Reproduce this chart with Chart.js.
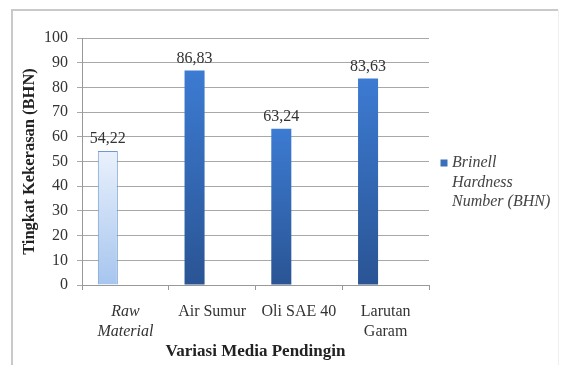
<!DOCTYPE html>
<html><head><meta charset="utf-8">
<script src="https://cdn.jsdelivr.net/npm/chart.js@4"></script>
<style>html,body{margin:0;padding:0;background:#fff;}#wrap{width:563px;height:365px;position:relative;}</style>
</head><body><div id="wrap"><canvas id="c" width="563" height="365"></canvas></div>
<script>
const categories = [["Raw","Material"], "Air Sumur", "Oli SAE 40", ["Larutan","Garam"]];
const italicCats = [true, false, false, false];
const seriesLabel = "Brinell Hardness Number (BHN)";
const legendLines = ["Brinell","Hardness","Number (BHN)"];
const seriesValues = [54.22, 86.83, 63.24, 83.63];
const emptySeries = [null, null, null, null];
const valueLabels = ["54,22", "86,83", "63,24", "83,63"];
const yTicks = [0,10,20,30,40,50,60,70,80,90,100];
const yTitle = "Tingkat Kekerasan (BHN)";
const xTitle = "Variasi Media Pendingin";

const SERIF = "'Liberation Serif','Times New Roman',serif";

function barFill(ctx){
  const chart = ctx.chart;
  const ys = chart.scales.y;
  if(!ys || ctx.raw == null) return ctx.dataIndex===0 ? '#c6dbf5' : '#3a6fb9';
  const top = ys.getPixelForValue(ctx.raw), base = ys.getPixelForValue(0);
  if(!isFinite(top) || !isFinite(base)) return ctx.dataIndex===0 ? '#c6dbf5' : '#3a6fb9';
  const g = chart.ctx.createLinearGradient(0, top, 0, base);
  if(ctx.dataIndex===0){
    g.addColorStop(0,'#eaf1fc'); g.addColorStop(1,'#a6c5ee');
  } else {
    g.addColorStop(0,'#3c7bd2'); g.addColorStop(1,'#2a5494');
  }
  return g;
}

const decor = {
  id:'decor',
  beforeDraw(chart){
    const c = chart.ctx;
    c.save();
    c.strokeStyle = '#c9c9c9'; c.lineWidth = 2;
    c.beginPath(); c.moveTo(12,365); c.lineTo(12,10); c.lineTo(558,10); c.stroke();
    c.strokeStyle = '#efefef'; c.lineWidth = 1;
    c.beginPath(); c.moveTo(558.5,10); c.lineTo(558.5,365); c.stroke();
    c.restore();
  },
  afterDatasetsDraw(chart){
    const c = chart.ctx; const meta = chart.getDatasetMeta(0);
    c.save();
    c.font = "16px " + SERIF; c.fillStyle = '#333'; c.textAlign='center'; c.textBaseline='middle';
    meta.data.forEach((b,i)=>{ c.fillText(valueLabels[i], b.x, b.y - 12); });
    // legend
    const lx = 444, ly = 163;
    c.fillStyle = '#3a6fb9'; c.fillRect(lx-3.5, ly-3.5, 7, 7);
    c.fillStyle = '#444'; c.font = "italic 16px " + SERIF; c.textAlign='left'; c.textBaseline='middle';
    legendLines.forEach((w,i)=> c.fillText(w, lx+8, ly + i*19.5));
    // x tick labels
    const xs = chart.scales.x;
    c.fillStyle = '#333'; c.textAlign='center'; c.textBaseline='middle';
    categories.forEach((cat,i)=>{
      const x = xs.getPixelForValue(i);
      const lines = Array.isArray(cat) ? cat : [cat];
      c.font = (italicCats[i] ? "italic " : "") + "16px " + SERIF;
      lines.forEach((l,k)=> c.fillText(l, x, 312 + k*19.5));
    });
    c.restore();
  }
};

new Chart(document.getElementById('c'), {
  type:'bar',
  data:{ labels: categories, datasets:[
    { label: seriesLabel, data: seriesValues,
      backgroundColor: barFill,
      borderColor: (ctx)=> ctx.dataIndex===0 ? '#7099cf' : 'rgba(0,0,0,0)',
      borderWidth: (ctx)=> ctx.dataIndex===0 ? 1 : 0,
      categoryPercentage: 0.81, barPercentage: 0.57 },
    { label: "", data: emptySeries, categoryPercentage: 0.81, barPercentage: 0.57 }
  ]},
  options:{
    responsive:false, animation:false,
    layout:{ padding:{ left:20, right:134, top:38, bottom:3 } },
    plugins:{ legend:{display:false}, tooltip:{enabled:false} },
    scales:{
      x:{
        grid:{ display:true, drawOnChartArea:false, offset:true, color:'#999', tickLength:5 },
        border:{ color:'#999' },
        ticks:{ display:false },
        title:{ display:true, text:xTitle, font:{ family:SERIF, size:17, weight:'bold' }, color:'#222', padding:{top:0,bottom:0} },
        afterFit(s){ s.height = 77; }
      },
      y:{
        min:0, max:100,
        afterBuildTicks(s){ s.ticks = yTicks.map(v=>({value:v})); },
        grid:{ color:'#a8a8a8', tickLength:5 },
        border:{ color:'#999' },
        ticks:{ font:{ family:SERIF, size:16 }, color:'#333', padding:9 },
        title:{ display:true, text:yTitle, font:{ family:SERIF, size:16.5, weight:'bold' }, color:'#222', padding:{top:0,bottom:0} },
        afterFit(s){ s.width = 62; }
      }
    }
  },
  plugins:[decor]
});
</script></body></html>
